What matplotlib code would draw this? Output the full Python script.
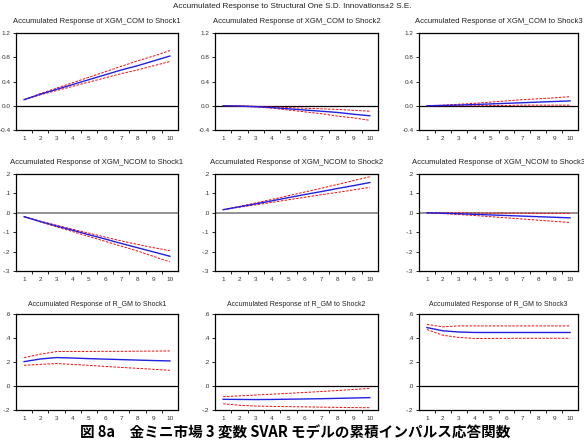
import numpy as np
import matplotlib
matplotlib.use("Agg")
import matplotlib.pyplot as plt

plt.rcParams['font.family'] = ['Liberation Sans', 'DejaVu Sans']

steps = np.arange(1, 11)

# accumulated responses (mid, upper band, lower band), row = variable, col = shock
xgm_com_s1 = [0.10, 0.19, 0.27, 0.35, 0.43, 0.51, 0.59, 0.66, 0.74, 0.82]
xgm_com_s1_hi = [0.10, 0.20, 0.29, 0.38, 0.47, 0.56, 0.65, 0.74, 0.82, 0.91]
xgm_com_s1_lo = [0.10, 0.18, 0.25, 0.32, 0.39, 0.46, 0.53, 0.59, 0.66, 0.73]

xgm_com_s2 = [0.0, -0.005, -0.015, -0.03, -0.05, -0.07, -0.09, -0.11, -0.14, -0.165]
xgm_com_s2_hi = [0.0, 0.0, -0.01, -0.02, -0.03, -0.04, -0.05, -0.06, -0.075, -0.09]
xgm_com_s2_lo = [0.0, -0.01, -0.02, -0.04, -0.07, -0.10, -0.13, -0.17, -0.20, -0.24]

xgm_com_s3 = [0.0, 0.005, 0.012, 0.02, 0.03, 0.04, 0.05, 0.06, 0.07, 0.08]
xgm_com_s3_hi = [0.0, 0.01, 0.025, 0.04, 0.06, 0.08, 0.10, 0.115, 0.13, 0.15]
xgm_com_s3_lo = [0.0, 0.0, 0.0, 0.0, 0.005, 0.005, 0.01, 0.01, 0.01, 0.01]

xgm_ncom_s1 = [-0.02, -0.045, -0.068, -0.09, -0.113, -0.135, -0.158, -0.18, -0.202, -0.224]
xgm_ncom_s1_hi = [-0.02, -0.043, -0.064, -0.085, -0.105, -0.125, -0.145, -0.163, -0.18, -0.195]
xgm_ncom_s1_lo = [-0.02, -0.047, -0.072, -0.097, -0.122, -0.147, -0.172, -0.197, -0.225, -0.253]

xgm_ncom_s2 = [0.016, 0.031, 0.046, 0.062, 0.078, 0.094, 0.109, 0.125, 0.14, 0.156]
xgm_ncom_s2_hi = [0.016, 0.033, 0.051, 0.069, 0.088, 0.107, 0.126, 0.146, 0.166, 0.186]
xgm_ncom_s2_lo = [0.016, 0.029, 0.041, 0.054, 0.067, 0.080, 0.093, 0.105, 0.118, 0.131]

xgm_ncom_s3 = [0.0, -0.002, -0.005, -0.008, -0.011, -0.014, -0.017, -0.02, -0.023, -0.026]
xgm_ncom_s3_hi = [0.0, 0.0, 0.0, -0.001, -0.002, -0.002, -0.002, -0.003, -0.003, -0.003]
xgm_ncom_s3_lo = [0.0, -0.004, -0.009, -0.014, -0.02, -0.026, -0.032, -0.038, -0.044, -0.05]

r_gm_s1 = [0.203, 0.225, 0.237, 0.233, 0.228, 0.224, 0.220, 0.216, 0.212, 0.209]
r_gm_s1_hi = [0.237, 0.265, 0.287, 0.288, 0.288, 0.289, 0.289, 0.290, 0.291, 0.292]
r_gm_s1_lo = [0.173, 0.180, 0.187, 0.180, 0.172, 0.163, 0.155, 0.147, 0.139, 0.131]

r_gm_s2 = [-0.111, -0.112, -0.113, -0.112, -0.110, -0.108, -0.106, -0.103, -0.100, -0.097]
r_gm_s2_hi = [-0.089, -0.082, -0.075, -0.068, -0.061, -0.054, -0.046, -0.038, -0.029, -0.020]
r_gm_s2_lo = [-0.148, -0.160, -0.167, -0.170, -0.172, -0.174, -0.176, -0.178, -0.180, -0.181]

r_gm_s3 = [0.487, 0.460, 0.450, 0.446, 0.446, 0.446, 0.446, 0.446, 0.446, 0.446]
r_gm_s3_hi = [0.513, 0.493, 0.501, 0.501, 0.501, 0.501, 0.501, 0.501, 0.501, 0.501]
r_gm_s3_lo = [0.471, 0.423, 0.405, 0.396, 0.397, 0.397, 0.398, 0.398, 0.398, 0.398]

variables = ["XGM_COM", "XGM_NCOM", "R_GM"]
shocks = ["Shock1", "Shock2", "Shock3"]
series = [
    [(xgm_com_s1, xgm_com_s1_hi, xgm_com_s1_lo),
     (xgm_com_s2, xgm_com_s2_hi, xgm_com_s2_lo),
     (xgm_com_s3, xgm_com_s3_hi, xgm_com_s3_lo)],
    [(xgm_ncom_s1, xgm_ncom_s1_hi, xgm_ncom_s1_lo),
     (xgm_ncom_s2, xgm_ncom_s2_hi, xgm_ncom_s2_lo),
     (xgm_ncom_s3, xgm_ncom_s3_hi, xgm_ncom_s3_lo)],
    [(r_gm_s1, r_gm_s1_hi, r_gm_s1_lo),
     (r_gm_s2, r_gm_s2_hi, r_gm_s2_lo),
     (r_gm_s3, r_gm_s3_hi, r_gm_s3_lo)],
]
y_ticks = [
    [-0.4, 0.0, 0.4, 0.8, 1.2],
    [-0.3, -0.2, -0.1, 0.0, 0.1, 0.2],
    [-0.2, 0.0, 0.2, 0.4, 0.6],
]
y_labels = [
    ["-0.4", "0.0", "0.4", "0.8", "1.2"],
    ["-.3", "-.2", "-.1", ".0", ".1", ".2"],
    ["-.2", ".0", ".2", ".4", ".6"],
]
title_size = [5.5, 5.5, 5.0]

W, H = 584, 447
fig = plt.figure(figsize=(W / 100, H / 100), dpi=100)

col_x = [(16, 178), (215, 378), (419, 578)]
row_y = [(33, 130), (174, 271), (314, 410)]

for r in range(3):
    for c in range(3):
        x0, x1 = col_x[c]
        y0, y1 = row_y[r]
        ax = fig.add_axes([x0 / W, 1 - y1 / H, (x1 - x0) / W, (y1 - y0) / H])
        mid, hi, lo = series[r][c]
        zcol = "#808080" if r == 1 else "black"
        ax.axhline(0, color=zcol, lw=1.2 if r == 1 else 0.9, zorder=1)
        ax.plot(steps, hi, color="red", lw=0.7, ls=(0, (2.5, 1.5)), zorder=2)
        ax.plot(steps, lo, color="red", lw=0.7, ls=(0, (2.5, 1.5)), zorder=2)
        ax.plot(steps, mid, color="#2020e0", lw=1.0, zorder=3)
        ax.set_xlim(0.5, 10.5)
        ax.set_ylim(y_ticks[r][0], y_ticks[r][-1])
        ax.set_yticks(y_ticks[r])
        ax.set_yticklabels(y_labels[r])
        ax.set_xticks(steps)
        ax.set_xticks(np.arange(1.5, 10.5, 1), minor=True)
        ax.tick_params(axis="x", which="major", length=0, labelsize=4.6,
                       pad=4, labelcolor="#333333")
        ax.tick_params(axis="x", which="minor", length=2.5, width=0.6,
                       direction="out")
        ax.tick_params(axis="y", length=2.5, width=0.6, labelsize=4.6,
                       pad=1.5, labelcolor="#333333")
        for s in ax.spines.values():
            s.set_linewidth(0.9)
        ax.set_title(f"Accumulated Response of {variables[r]} to {shocks[c]}",
                     fontsize=title_size[r], pad=7 if r < 2 else 6,
                     color="#222222")

fig.text(0.5, 1 - 7 / H,
         "Accumulated Response to Structural One S.D. Innovations\u00b12 S.E.",
         ha="center", va="center", fontsize=5.9, color="#222222")

fig.text(0.505, 1 - 432 / H,
         "図 8a\u3000金ミニ市場 3 変数 SVAR モデルの累積インパルス応答関数",
         ha="center", va="center", fontsize=10.5, fontweight="bold",
         family=["Noto Sans CJK JP", "DejaVu Sans"])

fig.savefig("out.png", dpi=100)
